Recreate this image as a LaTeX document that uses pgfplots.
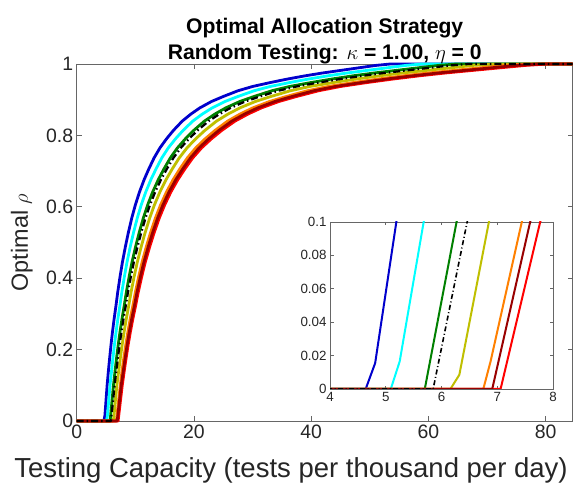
\documentclass[border=0pt]{standalone}
\usepackage{fontspec}
\setmainfont{Liberation Sans}
\usepackage{pgfplots}
\pgfplotsset{compat=1.18}
\usepackage{pgfplotstable}

\definecolor{cblue}{rgb}{0,0,0.8}
\definecolor{ccyan}{rgb}{0,1,1}
\definecolor{cgreen}{rgb}{0,0.5,0}
\definecolor{colive}{rgb}{0.75,0.75,0}
\definecolor{corange}{rgb}{1,0.5,0}
\definecolor{cdkred}{rgb}{0.6,0,0}
\definecolor{cred}{rgb}{1,0,0}
\definecolor{axgray}{gray}{0.4}
\definecolor{txtgray}{gray}{0.15}

% optimal rho vs testing capacity, one table per curve
\pgfplotstableread{
x y
0 0
4.64 0
4.81 0.0155
5.19 0.1
5.4 0.139
5.6 0.173
5.85 0.213
6.1 0.249
6.4 0.288
6.69 0.322
7.0 0.361
7.4 0.405
7.8 0.445
8.3 0.488
8.8 0.527
9.4 0.569
10.0 0.605
10.7 0.641
11.5 0.676
12.3 0.706
13.2 0.737
14.2 0.765
15.3 0.790
16.5 0.814
18.0 0.840
19.5 0.860
21.0 0.877
23.0 0.895
25.0 0.909
27.5 0.925
30.0 0.937
33.0 0.948
36.0 0.958
39.0 0.967
42.0 0.975
45.0 0.982
48.0 0.989
51.0 0.996
53.5 1
84.6 1
}\datablue
\pgfplotstableread{
x y
0 0
5.09 0
5.25 0.0165
5.68 0.1
5.94 0.139
6.16 0.173
6.435 0.213
6.71 0.249
7.04 0.288
7.36 0.322
7.7 0.361
8.14 0.405
8.58 0.445
9.13 0.488
9.68 0.527
10.34 0.569
11.0 0.605
11.77 0.641
12.65 0.676
13.53 0.706
14.52 0.737
15.62 0.765
16.83 0.790
18.15 0.814
19.8 0.840
21.45 0.860
23.1 0.877
25.3 0.895
27.5 0.909
30.25 0.925
33.0 0.937
36.3 0.948
39.6 0.958
42.9 0.967
46.2 0.975
49.5 0.982
52.8 0.989
56.1 0.996
58.85 1
84.6 1
}\datacyan
\pgfplotstableread{
x y
0 0
5.70 0
6.27 0.1
6.534 0.139
6.776 0.173
7.079 0.213
7.381 0.249
7.744 0.288
8.095 0.322
8.47 0.361
8.954 0.405
9.438 0.445
10.043 0.488
10.648 0.527
11.374 0.569
12.1 0.605
12.947 0.641
13.915 0.676
14.883 0.706
15.972 0.737
17.182 0.765
18.513 0.790
19.965 0.814
21.78 0.840
23.595 0.860
25.41 0.877
27.83 0.895
30.25 0.909
33.275 0.925
36.3 0.937
39.93 0.948
43.56 0.958
47.19 0.967
50.82 0.975
54.45 0.982
58.08 0.989
61.71 0.996
64.735 1
84.6 1
}\datagreen
\pgfplotstableread{
x y
0 0
5.85 0
6.46 0.1
6.75 0.139
7.0 0.173
7.3125 0.213
7.625 0.249
8.0 0.288
8.3625 0.322
8.75 0.361
9.25 0.405
9.75 0.445
10.375 0.488
11.0 0.527
11.75 0.569
12.5 0.605
13.375 0.641
14.375 0.676
15.375 0.706
16.5 0.737
17.75 0.765
19.125 0.790
20.625 0.814
22.5 0.840
24.375 0.860
26.25 0.877
28.75 0.895
31.25 0.909
34.375 0.925
37.5 0.937
41.25 0.948
45.0 0.958
48.75 0.967
52.5 0.975
56.25 0.982
60.0 0.989
63.75 0.996
66.875 1
84.6 1
}\datablack
\pgfplotstableread{
x y
0 0
6.16 0
6.32 0.0085
6.85 0.1
7.155 0.139
7.42 0.173
7.751 0.213
8.083 0.249
8.48 0.288
8.864 0.322
9.275 0.361
9.805 0.405
10.335 0.445
10.998 0.488
11.66 0.527
12.455 0.569
13.25 0.605
14.178 0.641
15.238 0.676
16.298 0.706
17.49 0.737
18.815 0.765
20.273 0.790
21.863 0.814
23.85 0.840
25.838 0.860
27.825 0.877
30.475 0.895
33.125 0.909
36.438 0.925
39.75 0.937
43.725 0.948
47.7 0.958
51.675 0.967
55.65 0.975
59.625 0.982
63.6 0.989
67.575 0.996
70.888 1
84.6 1
}\dataolive
\pgfplotstableread{
x y
0 0
6.75 0
6.88 0.0165
7.44 0.1
7.722 0.139
8.008 0.173
8.366 0.213
8.723 0.249
9.152 0.288
9.567 0.322
10.01 0.361
10.582 0.405
11.154 0.445
11.869 0.488
12.584 0.527
13.442 0.569
14.3 0.605
15.301 0.641
16.445 0.676
17.589 0.706
18.876 0.737
20.306 0.765
21.879 0.790
23.595 0.814
25.74 0.840
27.885 0.860
30.03 0.877
32.89 0.895
35.75 0.909
39.325 0.925
42.9 0.937
47.19 0.948
51.48 0.958
55.77 0.967
60.06 0.975
64.35 0.982
68.64 0.989
72.93 0.996
76.505 1
84.6 1
}\dataorange
\pgfplotstableread{
x y
0 0
6.91 0
7.59 0.1
7.938 0.139
8.232 0.173
8.6 0.213
8.967 0.249
9.408 0.288
9.834 0.322
10.29 0.361
10.878 0.405
11.466 0.445
12.201 0.488
12.936 0.527
13.818 0.569
14.7 0.605
15.729 0.641
16.905 0.676
18.081 0.706
19.404 0.737
20.874 0.765
22.491 0.790
24.255 0.814
26.46 0.840
28.665 0.860
30.87 0.877
33.81 0.895
36.75 0.909
40.425 0.925
44.1 0.937
48.51 0.948
52.92 0.958
57.33 0.967
61.74 0.975
66.15 0.982
70.56 0.989
74.97 0.996
78.645 1
84.6 1
}\datadkred
\pgfplotstableread{
x y
0 0
7.06 0
7.77 0.1
8.1 0.139
8.4 0.173
8.775 0.213
9.15 0.249
9.6 0.288
10.035 0.322
10.5 0.361
11.1 0.405
11.7 0.445
12.45 0.488
13.2 0.527
14.1 0.569
15.0 0.605
16.05 0.641
17.25 0.676
18.45 0.706
19.8 0.737
21.3 0.765
22.95 0.790
24.75 0.814
27.0 0.840
29.25 0.860
31.5 0.877
34.5 0.895
37.5 0.909
41.25 0.925
45.0 0.937
49.5 0.948
54.0 0.958
58.5 0.967
63.0 0.975
67.5 0.982
72.0 0.989
76.5 0.996
80.25 1
84.6 1
}\datared

% #1 line width, #2 dash pattern for the black curve
\newcommand\curves[2]{%
  \addplot[cblue, line width=#1] table {\datablue};
  \addplot[ccyan, line width=#1] table {\datacyan};
  \addplot[cgreen, line width=#1] table {\datagreen};
  \addplot[colive, line width=#1] table {\dataolive};
  \addplot[corange, line width=#1] table {\dataorange};
  \addplot[cred, line width=#1] table {\datared};
  \addplot[cdkred, line width=#1] table {\datadkred};
  \addplot[black, line width=0.8*#1, dash pattern=#2] table {\datablack};
}

\pgfplotsset{
  mlab/.style={
    scale only axis,
    axis line style={axgray, line width=0.6bp},
    tick style={axgray, line width=0.6bp},
    tick align=inside,
    axis background/.style={fill=white},
  }
}

\begin{document}
\begin{tikzpicture}
\begin{axis}[
  mlab,
  at={(0,0)}, anchor=south west,
  width=496bp, height=357bp,
  xmin=0, xmax=84.6, ymin=0, ymax=1,
  clip=false,
  line join=round,
  xtick={0,20,40,60,80},
  xticklabels={0,20,40,60,80},
  ytick={0,0.2,0.4,0.6,0.8,1},
  yticklabels={0,0.2,0.4,0.6,0.8,1},
  major tick length=5bp,
  every tick label/.append style={font=\fontsize{19.5}{20}\selectfont, text=txtgray},
  title={Optimal Allocation Strategy\\Random Testing: $\kappa$ = 1.00, $\eta$ = 0},
  title style={at={(axis description cs:0.5,1)}, anchor=south, yshift=-6bp,
    align=center, inner sep=0pt, font=\fontsize{21.2}{26}\selectfont\bfseries},
  xlabel={Testing Capacity (tests per thousand per day)},
  xlabel style={at={(axis description cs:0.432,0)}, anchor=base, yshift=-56bp,
    inner sep=0pt, font=\fontsize{27.6}{30}\selectfont, text=txtgray},
  ylabel={Optimal {\fontsize{21}{21}\selectfont$\rho$}},
  ylabel style={at={(axis description cs:-0.0881,0.5)}, anchor=south,
    inner sep=0pt, font=\fontsize{23.5}{26}\selectfont, text=txtgray},
]
\curves{2.8bp}{on 7bp off 3bp on 1.5bp off 3bp}
\end{axis}

\begin{axis}[
  mlab,
  at={(253.3bp,32bp)}, anchor=south west,
  width=223bp, height=167bp,
  xmin=4, xmax=8, ymin=0, ymax=0.1,
  xtick={4,5,6,7,8},
  xticklabels={4,5,6,7,8},
  ytick={0,0.02,0.04,0.06,0.08,0.1},
  yticklabels={0,0.02,0.04,0.06,0.08,0.1},
  major tick length=3.5bp,
  every tick label/.append style={font=\fontsize{13.4}{14}\selectfont, text=txtgray},
]
\curves{2bp}{on 5bp off 2.5bp on 1bp off 2.5bp}
\end{axis}

\pgfresetboundingbox
\useasboundingbox (-76.7bp,-64bp) rectangle (497.3bp,421bp);
\end{tikzpicture}
\end{document}
